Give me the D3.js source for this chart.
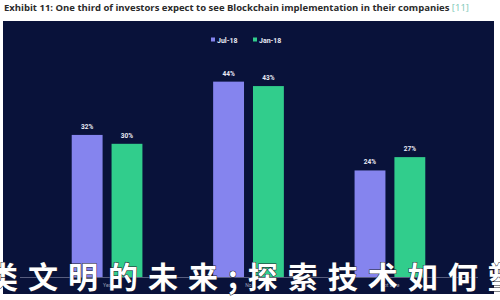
<!DOCTYPE html>
<html>
<head>
<meta charset="utf-8">
<script src="https://cdn.jsdelivr.net/npm/d3@7"></script>
<style>
  body { margin: 0; background: #fff; }
  svg { display: block; }
</style>
</head>
<body>
<svg width="500" height="300"></svg>
<script>
// data
var categories = ["Yes", "No", "Not sure"];
var seriesNames = ["Jul-18", "Jan-18"];
var jul18 = [32, 44, 24];
var jan18 = [30, 43, 27];
var colors = ["#8584ee", "#31cd8c"];

var svg = d3.select("svg");

// title
var title = svg.append("text")
    .attr("x", 4)
    .attr("y", 10.5)
    .style("font-family", "'Open Sans', sans-serif")
    .style("font-size", "9.5px")
    .style("font-weight", "bold")
    .attr("fill", "#2b2b2b");
title.append("tspan").text("Exhibit 11: One third of investors expect to see Blockchain implementation in their companies ");
title.append("tspan").attr("fill", "#7cc7b6").style("font-weight", "normal").text("[11]");

// dark panel
svg.append("rect")
    .attr("x", 3)
    .attr("y", 21)
    .attr("width", 491)
    .attr("height", 273)
    .attr("fill", "#09123a");

var x0 = d3.scaleBand().domain(categories).range([1, 496]).padding(0.5);
var x1 = d3.scaleBand().domain(seriesNames).range([0, x0.bandwidth()]).paddingInner(0.225);
var y = d3.scaleLinear().domain([0, 50]).range([277, 55]);

var rows = categories.map(function(c, i) {
    return { cat: c, values: [
        { key: seriesNames[0], value: jul18[i] },
        { key: seriesNames[1], value: jan18[i] }
    ]};
});

// baseline
svg.append("line")
    .attr("x1", 20).attr("x2", 478)
    .attr("y1", y(0) + 0.5).attr("y2", y(0) + 0.5)
    .attr("stroke", "#6d7290")
    .attr("stroke-width", 0.8);

var groups = svg.selectAll(".grp")
    .data(rows)
    .enter().append("g")
        .attr("class", "grp")
        .attr("transform", function(d) { return "translate(" + x0(d.cat) + ",0)"; });

groups.selectAll("rect")
    .data(function(d) { return d.values; })
    .enter().append("rect")
        .attr("x", function(d) { return x1(d.key); })
        .attr("y", function(d) { return y(d.value); })
        .attr("width", x1.bandwidth())
        .attr("height", function(d) { return y(0) - y(d.value); })
        .attr("fill", function(d, i) { return colors[i]; });

groups.selectAll(".val")
    .data(function(d) { return d.values; })
    .enter().append("text")
        .attr("class", "val")
        .attr("x", function(d) { return x1(d.key) + x1.bandwidth() / 2; })
        .attr("y", function(d) { return y(d.value) - 6; })
        .attr("text-anchor", "middle")
        .style("font-family", "Roboto, sans-serif")
        .style("font-size", "6.5px")
        .style("font-weight", "bold")
        .attr("fill", "#e8eaf5")
        .text(function(d) { return d.value + "%"; });

// category labels
svg.selectAll(".cat")
    .data(categories)
    .enter().append("text")
        .attr("class", "cat")
        .attr("x", function(d) { return x0(d) + x0.bandwidth() / 2; })
        .attr("y", 287)
        .attr("text-anchor", "middle")
        .style("font-family", "Roboto, sans-serif")
        .style("font-size", "5px")
        .attr("fill", "#9aa0b8")
        .text(function(d) { return d; });

// legend
var legend = svg.append("g").attr("transform", "translate(211,40)");
var lx = [0, 42];
seriesNames.forEach(function(s, i) {
    legend.append("rect")
        .attr("x", lx[i]).attr("y", -2.5)
        .attr("width", 4).attr("height", 4)
        .attr("fill", colors[i]);
    legend.append("text")
        .attr("x", lx[i] + 6).attr("y", 2.5)
        .style("font-family", "Roboto, sans-serif")
        .style("font-size", "7px")
        .style("font-weight", "bold")
        .attr("fill", "#e8eaf5")
        .text(s);
});

// watermark overlay
svg.append("text")
    .attr("x", -12)
    .attr("y", 288)
    .style("font-family", "'Noto Sans CJK SC', sans-serif")
    .style("font-size", "30px")
    .style("font-weight", "bold")
    .style("letter-spacing", "10px")
    .attr("fill", "#ffffff")
    .attr("stroke", "#1b1d2e")
    .attr("stroke-width", 1)
    .attr("paint-order", "stroke")
    .text("类文明的未来;探索技术如何塑造");
</script>
</body>
</html>
